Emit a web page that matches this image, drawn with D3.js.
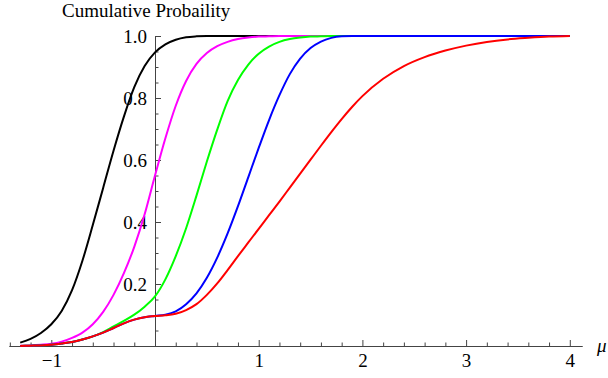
<!DOCTYPE html>
<html>
<head>
<meta charset="utf-8">
<script src="https://cdn.jsdelivr.net/npm/d3@7"></script>
<style>
  body { margin: 0; background: #fff; }
  svg text { font-family: 'Liberation Serif', 'DejaVu Serif', 'Times New Roman', serif; }
</style>
</head>
<body>
<script>
// mu grid shared by all curves
const muValues = [
  -1.3, -1.2, -1.1, -1.0, -0.9, -0.8, -0.7, -0.6, -0.5, -0.4, -0.3, -0.2, -0.1,
  0.0, 0.1, 0.2, 0.3, 0.4, 0.5, 0.6, 0.7, 0.8, 0.9, 1.0, 1.1, 1.2, 1.3, 1.4,
  1.5, 1.6, 1.7, 1.8, 1.9, 2.0, 2.2, 2.4, 2.6, 2.8, 3.0, 3.2, 3.4, 3.6, 3.8, 4.0
];

const blackCdf = [
  0.011, 0.023, 0.042, 0.07, 0.113, 0.18, 0.275, 0.39, 0.51, 0.63, 0.74, 0.835, 0.903,
  0.947, 0.973, 0.988, 0.996, 0.999, 1, 1, 1, 1, 1, 1, 1, 1, 1, 1,
  1, 1, 1, 1, 1, 1, 1, 1, 1, 1, 1, 1, 1, 1, 1, 1
];
const magentaCdf = [
  0.001, 0.002, 0.004, 0.007, 0.014, 0.026, 0.043, 0.07, 0.11, 0.165, 0.235, 0.32, 0.425,
  0.55, 0.67, 0.775, 0.855, 0.91, 0.945, 0.967, 0.981, 0.99, 0.995, 0.998, 0.999, 1, 1, 1,
  1, 1, 1, 1, 1, 1, 1, 1, 1, 1, 1, 1, 1, 1, 1, 1
];
const greenCdf = [
  0.0, 0.001, 0.002, 0.004, 0.008, 0.013, 0.021, 0.031, 0.045, 0.063, 0.081, 0.101, 0.127,
  0.16, 0.215, 0.29, 0.38, 0.485, 0.595, 0.698, 0.79, 0.858, 0.908, 0.943, 0.966, 0.981, 0.99, 0.995,
  0.998, 0.999, 1, 1, 1, 1, 1, 1, 1, 1, 1, 1, 1, 1, 1, 1
];
const blueCdf = [
  0.0, 0.001, 0.002, 0.004, 0.008, 0.013, 0.021, 0.031, 0.043, 0.058, 0.073, 0.085, 0.093,
  0.097, 0.101, 0.112, 0.135, 0.17, 0.22, 0.285, 0.363, 0.451, 0.545, 0.639, 0.729, 0.809, 0.877, 0.927,
  0.961, 0.982, 0.994, 0.999, 1, 1, 1, 1, 1, 1, 1, 1, 1, 1, 1, 1
];
const redCdf = [
  0.0, 0.001, 0.002, 0.004, 0.008, 0.013, 0.021, 0.031, 0.043, 0.058, 0.073, 0.085, 0.093,
  0.097, 0.099, 0.104, 0.116, 0.135, 0.165, 0.202, 0.245, 0.29, 0.334, 0.378, 0.422, 0.466, 0.511, 0.556,
  0.601, 0.646, 0.69, 0.732, 0.771, 0.806, 0.862, 0.903, 0.932, 0.953, 0.969, 0.981, 0.989, 0.994, 0.998, 1.0
];

const seriesValues = [blackCdf, magentaCdf, greenCdf, blueCdf, redCdf];
const seriesColors = ["#000000", "#ff00ff", "#00ff00", "#0000ff", "#ff0000"];

const xMajorTicks = [-1, 1, 2, 3, 4];
const xMinorTicks = [-1.4, -1.2, -0.8, -0.6, -0.4, -0.2, 0.2, 0.4, 0.6, 0.8, 1.2, 1.4, 1.6, 1.8,
  2.2, 2.4, 2.6, 2.8, 3.2, 3.4, 3.6, 3.8];
const yMajorTicks = [0.2, 0.4, 0.6, 0.8, 1.0];
const yMinorTicks = [0.05, 0.1, 0.15, 0.25, 0.3, 0.35, 0.45, 0.5, 0.55, 0.65, 0.7, 0.75, 0.85, 0.9, 0.95];

const xAxisLabel = "μ";
const yAxisLabel = "Cumulative Probaility";

const width = 608, height = 378;
const serif = "'Liberation Serif', 'DejaVu Serif', 'Times New Roman', serif";

const svg = d3.select("body").append("svg")
    .attr("width", width)
    .attr("height", height);

// scales: 0 sits at x=155, 1 unit is ~103.7px
const x = d3.scaleLinear().domain([-1.3, 4]).range([20.2, 569.8]);
const y = d3.scaleLinear().domain([0, 1]).range([346, 36]);

// x axis spans a bit past the data
const xAxisScale = x.copy().domain([-1.41, 4.12]).range([x(-1.41), x(4.12)]);

const axisColor = "#444";

// x axis
svg.append("g")
    .attr("transform", `translate(0,${y(0)})`)
    .call(d3.axisBottom(xAxisScale)
        .tickValues(xMajorTicks)
        .tickSizeInner(-6)
        .tickSizeOuter(0)
        .tickPadding(8)
        .tickFormat(d3.format("d")));

svg.append("g")
    .attr("transform", `translate(0,${y(0)})`)
    .call(d3.axisBottom(xAxisScale)
        .tickValues(xMinorTicks)
        .tickSizeInner(-3.5)
        .tickSizeOuter(0)
        .tickFormat(""))
    .call(g => g.select(".domain").remove());

// y axis
svg.append("g")
    .attr("transform", `translate(${x(0)},0)`)
    .call(d3.axisLeft(y)
        .tickValues(yMajorTicks)
        .tickSizeInner(-6)
        .tickSizeOuter(0)
        .tickPadding(8)
        .tickFormat(d3.format(".1f")));

svg.append("g")
    .attr("transform", `translate(${x(0)},0)`)
    .call(d3.axisLeft(y)
        .tickValues(yMinorTicks)
        .tickSizeInner(-3.5)
        .tickSizeOuter(0)
        .tickFormat(""))
    .call(g => g.select(".domain").remove());

svg.selectAll("g").attr("font-family", null);
svg.selectAll(".domain").attr("stroke", axisColor);
svg.selectAll(".tick line").attr("stroke", axisColor);
svg.selectAll(".tick text")
    .style("font-family", serif)
    .style("font-size", "19px")
    .attr("fill", "#000");

// curves
const line = d3.line()
    .x((d, i) => x(muValues[i]))
    .y(d => y(d))
    .curve(d3.curveMonotoneX);

svg.append("g")
    .selectAll("path")
    .data(seriesValues)
    .join("path")
    .attr("fill", "none")
    .attr("stroke", (d, i) => seriesColors[i])
    .attr("stroke-width", 2)
    .attr("d", line);

// axis labels
svg.append("text")
    .attr("x", 62)
    .attr("y", 17)
    .style("font-family", serif)
    .style("font-size", "19px")
    .text(yAxisLabel);

svg.append("text")
    .attr("x", 597)
    .attr("y", y(0) + 6)
    .style("font-family", serif)
    .style("font-size", "19px")
    .style("font-style", "italic")
    .text(xAxisLabel);
</script>
</body>
</html>
